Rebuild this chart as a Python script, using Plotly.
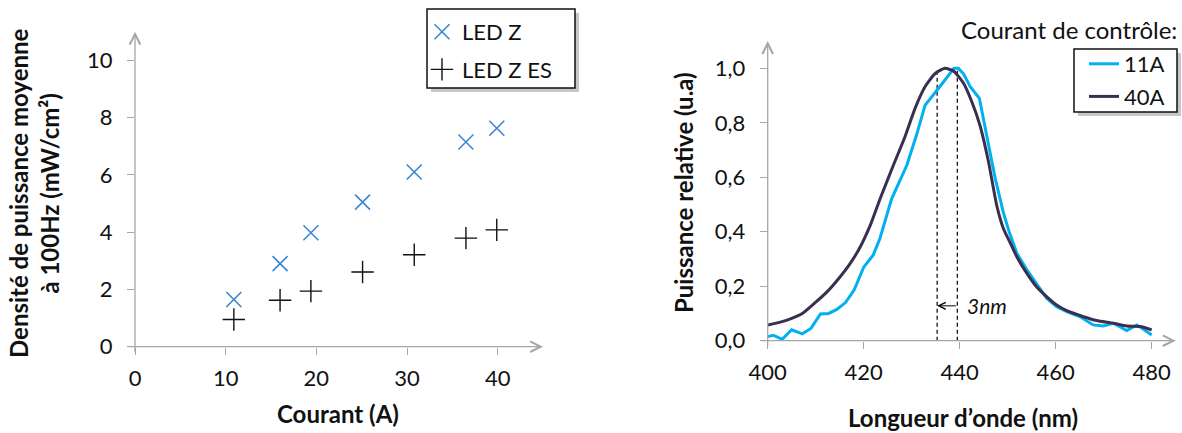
import plotly.graph_objects as go

# ---------------- data ----------------
current_A = [10.9, 16.0, 19.4, 25.1, 30.8, 36.5, 39.9]
led_z = [1.65, 2.90, 3.98, 5.05, 6.10, 7.15, 7.63]
led_z_es = [0.95, 1.62, 1.94, 2.61, 3.21, 3.79, 4.08]

wl_11A = [400, 401.2, 403, 405, 407.2, 409, 411, 412.7, 414.4, 416.2, 418, 420, 422,
          423.4, 425.8, 429, 431, 432.8, 435.6, 438, 438.8, 439.7, 440.8, 442.2, 444.1,
          445.6, 447.4, 449.1, 450.3, 451.9, 454, 456, 458.1, 460.2, 462.3, 465.1, 467.8,
          469.9, 472, 474.8, 476.9, 478.3, 480]
p_11A = [0.015, 0.02, 0.005, 0.04, 0.025, 0.045, 0.098, 0.10, 0.115, 0.14, 0.186, 0.27,
         0.315, 0.376, 0.52, 0.645, 0.755, 0.865, 0.927, 0.981, 1.0, 1.0, 0.98, 0.933,
         0.89, 0.755, 0.596, 0.47, 0.40, 0.321, 0.26, 0.21, 0.156, 0.125, 0.107, 0.088,
         0.058, 0.054, 0.064, 0.037, 0.058, 0.042, 0.021]

wl_40A = [400, 403, 405, 407.2, 409.6, 412.4, 415.1, 417.2, 419.3, 421.4, 423.5, 426.2,
          428.6, 430.7, 432.8, 434.9, 436.9, 438.7, 440.8, 442.5, 444.2, 446, 447.7,
          449.1, 450.5, 451.9, 454, 456, 458.1, 460.2, 462.3, 465.8, 468.5, 472, 474.8,
          477.6, 480]
p_40A = [0.0575, 0.07, 0.082, 0.10, 0.135, 0.18, 0.235, 0.284, 0.345, 0.425, 0.525,
         0.645, 0.749, 0.853, 0.933, 0.981, 1.0, 0.99, 0.945, 0.878, 0.792, 0.657, 0.498,
         0.412, 0.36, 0.308, 0.247, 0.198, 0.162, 0.131, 0.11, 0.088, 0.074, 0.064,
         0.054, 0.052, 0.04]

peak_nm = [435.3, 439.5]   # peak markers (40A, 11A)
shift_label = "3nm"

left_xticks = [0, 10, 20, 30, 40]
left_yticks = [0, 2, 4, 6, 8, 10]
right_xticks = [400, 420, 440, 460, 480]
right_yticks = [0, 0.2, 0.4, 0.6, 0.8, 1.0]

# ---------------- style ----------------
W, H = 1182, 433
FONT = "Lato"
AX = "#A6A6A6"
BLUE_X = "#3A87D4"
C11 = "#00B0F0"
C40 = "#3B2F50"
TXT = "#111111"

def px(x):
    return x / W

def py(y):
    return 1 - y / H

fig = go.Figure()

fig.add_trace(go.Scatter(x=current_A, y=led_z, mode="markers", name="LED Z",
                         marker=dict(symbol="x-thin", size=15, line=dict(color=BLUE_X, width=1.6)),
                         xaxis="x", yaxis="y", legend="legend", legendgroup="a"))
fig.add_trace(go.Scatter(x=current_A, y=led_z_es, mode="markers", name="LED Z ES",
                         marker=dict(symbol="cross-thin", size=16, line=dict(color=TXT, width=1.4)),
                         xaxis="x", yaxis="y", legend="legend", legendgroup="b"))

for p in peak_nm:
    fig.add_trace(go.Scatter(x=[p, p], y=[0, 1.0], mode="lines", showlegend=False,
                             line=dict(color="black", width=1.2, dash="4px,3px"),
                             xaxis="x2", yaxis="y2", hoverinfo="skip"))

fig.add_trace(go.Scatter(x=wl_11A, y=p_11A, mode="lines", name="11A",
                         line=dict(color=C11, width=3), xaxis="x2", yaxis="y2",
                         legend="legend2", legendgroup="c"))
fig.add_trace(go.Scatter(x=wl_40A, y=p_40A, mode="lines", name="40A",
                         line=dict(color=C40, width=3, shape="spline", smoothing=0.6),
                         xaxis="x2", yaxis="y2", legend="legend2", legendgroup="d"))

tickfont = dict(family=FONT, size=22, color=TXT)
common = dict(showgrid=False, zeroline=False, showline=False, ticks="outside", ticklen=7,
              tickcolor=AX, tickwidth=1.3, tickfont=tickfont, automargin=False)
inner = dict(showgrid=False, zeroline=False, showline=False, ticks="inside", ticklen=7,
             tickcolor=AX, tickwidth=1.3, showticklabels=False, automargin=False)

xd1 = [px(135), px(543)]
yd1 = [py(346.7), py(31.7)]
xd2 = [px(767.7), px(1175.7)]
yd2 = [py(340.7), py(41.1)]

legfont = dict(family=FONT, size=22, color=TXT)
fig.update_layout(
    template="none",
    width=W, height=H, margin=dict(l=0, r=0, t=0, b=0, pad=0, autoexpand=False),
    paper_bgcolor="white", plot_bgcolor="white",
    separators=", ",
    font=dict(family=FONT, size=22, color=TXT),
    xaxis=dict(domain=xd1, range=[0, 45], tickvals=left_xticks, anchor="y", **common,
               ticklabelstandoff=5),
    yaxis=dict(domain=yd1, range=[0, 11], tickvals=left_yticks, anchor="x", **common,
               ticklabelstandoff=10),
    xaxis3=dict(domain=xd1, range=[0, 45], tickvals=left_xticks, anchor="y", overlaying="x", **inner),
    yaxis3=dict(domain=yd1, range=[0, 11], tickvals=left_yticks, anchor="x", overlaying="y", **inner),
    xaxis2=dict(domain=xd2, range=[400, 485], tickvals=right_xticks, anchor="y2", **common,
                ticklabelstandoff=5),
    yaxis2=dict(domain=yd2, range=[0, 1.1], tickvals=right_yticks, tickformat=".1f",
                anchor="x2", **common, ticklabelstandoff=10),
    xaxis4=dict(domain=xd2, range=[400, 485], tickvals=right_xticks, anchor="y2", overlaying="x2", **inner),
    yaxis4=dict(domain=yd2, range=[0, 1.1], tickvals=right_yticks, anchor="x2", overlaying="y2", **inner),
    legend=dict(x=px(422), y=py(11), xanchor="left", yanchor="top", bgcolor="rgba(0,0,0,0)",
                borderwidth=0, traceorder="grouped", tracegroupgap=6,
                font=legfont, itemwidth=30),
    legend2=dict(x=px(1084), y=py(43), xanchor="left", yanchor="top", bgcolor="rgba(0,0,0,0)",
                 borderwidth=0, traceorder="grouped", tracegroupgap=1,
                 font=legfont, itemwidth=30),
    showlegend=True,
)

# legend frames with a light drop shadow
shapes = []
for (l, t, r, b) in [(427, 9, 575, 88), (1074, 49, 1177, 112)]:
    shapes.append(dict(type="rect", xref="paper", yref="paper", x0=px(l + 4), x1=px(r + 4),
                       y0=py(b + 4), y1=py(t + 4), line=dict(width=0),
                       fillcolor="rgba(0,0,0,0.22)", layer="above"))
    shapes.append(dict(type="rect", xref="paper", yref="paper", x0=px(l), x1=px(r),
                       y0=py(b), y1=py(t), line=dict(width=1.5, color=TXT),
                       fillcolor="white", layer="above"))
fig.update_layout(shapes=shapes)

ann = []
# axis lines with open arrowheads
for (xr, yr, x0, y0, x1, y1) in [("x", "y", -0.9, 0, 45, 0), ("x", "y", 0, -0.25, 0, 11),
                                  ("x2", "y2", 398.4, 0, 485, 0), ("x2", "y2", 400, -0.025, 400, 1.1)]:
    ann.append(dict(xref=xr, yref=yr, axref=xr, ayref=yr, x=x1, y=y1, ax=x0, ay=y0,
                    showarrow=True, arrowhead=5, arrowsize=1.6, arrowwidth=1.3,
                    arrowcolor=AX, text=""))
# shift arrow
ann.append(dict(xref="x2", yref="y2", axref="x2", ayref="y2", x=peak_nm[0], y=0.128,
                ax=peak_nm[1], ay=0.128, showarrow=True, arrowhead=5, arrowsize=1.4,
                arrowwidth=1, arrowcolor="black", text=""))
ann.append(dict(xref="x2", yref="y2", x=441.0, y=0.128, xanchor="left", yanchor="middle",
                showarrow=False, text="<i>" + shift_label + "</i>",
                font=dict(family=FONT, size=21, color=TXT)))
# titles
bold = dict(family=FONT, size=24, color=TXT)
ann.append(dict(xref="paper", yref="paper", x=px(34), y=py(193), textangle=-90,
                showarrow=False, text="<b>Densité de puissance moyenne<br>à 100Hz (mW/cm²)</b>",
                font=bold, xanchor="center", yanchor="middle"))
ann.append(dict(xref="paper", yref="paper", x=px(338), y=py(413), showarrow=False,
                text="<b>Courant (A)</b>", font=bold, xanchor="center", yanchor="middle"))
ann.append(dict(xref="paper", yref="paper", x=px(683), y=py(193), textangle=-90,
                showarrow=False, text="<b>Puissance relative (u.a)</b>",
                font=bold, xanchor="center", yanchor="middle"))
ann.append(dict(xref="paper", yref="paper", x=px(963), y=py(417), showarrow=False,
                text="<b>Longueur d’onde (nm)</b>", font=bold, xanchor="center", yanchor="middle"))
ann.append(dict(xref="paper", yref="paper", x=px(1179), y=py(29), showarrow=False,
                text="Courant de contrôle:", font=dict(family=FONT, size=24, color=TXT),
                xanchor="right", yanchor="middle"))
fig.update_layout(annotations=ann)

fig.write_html("out.html", config={"displayModeBar": False},
               post_script="document.body.style.margin='0px';document.body.style.overflow='hidden';")
